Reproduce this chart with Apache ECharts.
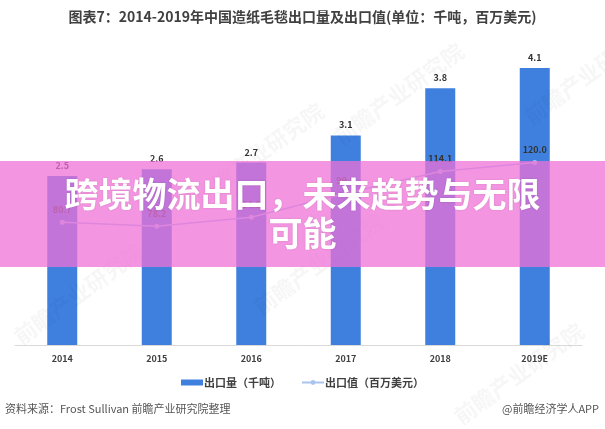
<!DOCTYPE html>
<html>
<head>
<meta charset="utf-8">
<style>
html,body{margin:0;padding:0;background:#fff;}
#chart{width:605px;height:429px;}
</style>
<script src="https://cdn.jsdelivr.net/npm/echarts@6/dist/echarts.min.js"></script>
</head>
<body>
<div id="chart"></div>
<script>
var categories = ['2014', '2015', '2016', '2017', '2018', '2019E'];
var exportVolume = [2.5, 2.6, 2.7, 3.1, 3.8, 4.1];
var exportValue = [80.7, 78.2, 84.0, 99.8, 114.1, 120.0];
var titleText = '图表7：2014-2019年中国造纸毛毯出口量及出口值(单位：千吨，百万美元)';
var overlayLine1 = '跨境物流出口，未来趋势与无限';
var overlayLine2 = '可能';
var sourceText = '资料来源：Frost Sullivan 前瞻产业研究院整理';
var brandText = '@前瞻经济学人APP';
var watermarkText = '前瞻产业研究院';

var font = '"Noto Sans CJK SC", "Noto Sans", sans-serif';
var chart = echarts.init(document.getElementById('chart'));

function wm(x, y) {
  return {type: 'text', z: 50, x: x, y: y, rotation: Math.PI / 5, silent: true,
    style: {text: watermarkText, fontFamily: font, fontSize: 22, fontWeight: 'bold', fill: 'rgba(0,0,0,0.035)'}};
}

chart.setOption({
  animation: false,
  backgroundColor: '#ffffff',
  title: {
    text: titleText,
    left: 'center',
    top: 5,
    textStyle: {fontFamily: font, fontSize: 14, fontWeight: 'bold', color: '#404040'}
  },
  legend: {
    bottom: 36,
    left: 'center',
    itemGap: 20,
    itemWidth: 22,
    itemHeight: 6,
    textStyle: {fontFamily: font, fontSize: 11, fontWeight: 'bold', color: '#404040', padding: [0, 0, 0, -4]},
    data: [
      {name: '出口量（千吨）', icon: 'rect'},
      {name: '出口值（百万美元）'}
    ]
  },
  grid: {left: 15, right: 23, top: 41, bottom: 84},
  xAxis: {
    type: 'category',
    data: categories,
    axisLine: {lineStyle: {color: '#d9d9d9', width: 1}},
    axisTick: {show: false},
    axisLabel: {fontFamily: font, fontSize: 9, fontWeight: 'bold', color: '#404040', margin: 9}
  },
  yAxis: [
    {type: 'value', min: 0, max: 4.5, show: false, splitLine: {show: false}},
    {type: 'value', min: 0, max: 200, show: false, splitLine: {show: false}}
  ],
  series: [
    {
      name: '出口量（千吨）',
      type: 'bar',
      data: exportVolume,
      barWidth: 30,
      itemStyle: {color: '#3f80df'},
      label: {show: true, position: 'top', distance: 6, fontFamily: font, fontSize: 9, fontWeight: 'bold', color: '#333'}
    },
    {
      name: '出口值（百万美元）',
      type: 'line',
      yAxisIndex: 1,
      data: exportValue,
      symbol: 'circle',
      symbolSize: 5,
      lineStyle: {color: '#a9c5ef', width: 1.5},
      itemStyle: {color: '#a9c5ef'},
      label: {show: true, position: 'top', distance: 6, fontFamily: font, fontSize: 9, fontWeight: 'bold', color: '#333',
        formatter: function (p) { return p.value.toFixed(1); }}
    }
  ],
  graphic: [
    wm(10, 330), wm(190, 190), wm(330, 130), wm(520, 110), wm(250, 300), wm(450, 410),
    {type: 'text', left: 5, top: 403, style: {text: sourceText, fontFamily: font, fontSize: 11, fill: '#555'}},
    {type: 'text', right: 6, top: 403, style: {text: brandText, fontFamily: font, fontSize: 11, fill: '#555'}},
    {type: 'rect', z: 100, shape: {x: 0, y: 161, width: 605, height: 106}, style: {fill: 'rgba(240,112,214,0.74)'}},
    {type: 'text', z: 101, left: 'center', top: 177, style: {text: overlayLine1, fontFamily: font, fontSize: 34, fontWeight: 'bold', fill: '#ffffff', textShadowColor: 'rgba(0,0,0,0.15)', textShadowBlur: 2}},
    {type: 'text', z: 101, left: 'center', top: 216, style: {text: overlayLine2, fontFamily: font, fontSize: 34, fontWeight: 'bold', fill: '#ffffff', textShadowColor: 'rgba(0,0,0,0.15)', textShadowBlur: 2}}
  ]
});
</script>
</body>
</html>
